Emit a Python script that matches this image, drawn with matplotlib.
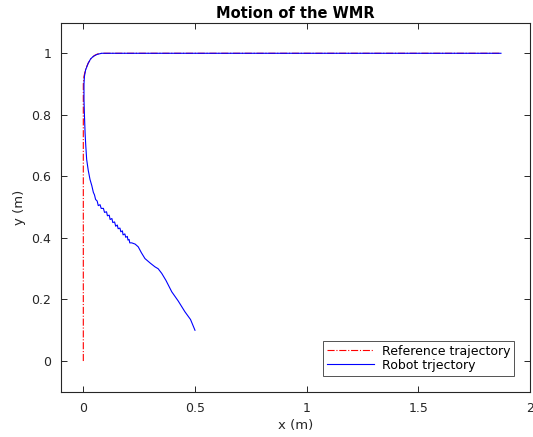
import matplotlib
matplotlib.use('Agg')
import matplotlib.pyplot as plt

plt.rcParams['font.family'] = ['DejaVu Sans']

# reference trajectory
ref_x = [0, 0, 0.003, 0.010, 0.022, 0.035, 0.050, 0.065, 0.085, 1.87]
ref_y = [0, 0.90, 0.925, 0.948, 0.968, 0.983, 0.993, 0.998, 1.0, 1.0]

# robot trajectory
rob_x = [0.500, 0.480, 0.455, 0.425, 0.396, 0.370, 0.351, 0.335, 0.321, 0.300,
         0.276, 0.260, 0.246, 0.232, 0.217, 0.208, 0.205, 0.200, 0.197, 0.190,
         0.186, 0.178, 0.175, 0.168, 0.164, 0.156, 0.152, 0.145, 0.140, 0.132,
         0.128, 0.120, 0.116, 0.108, 0.104, 0.095, 0.090, 0.080, 0.075, 0.067,
         0.062, 0.055, 0.050, 0.045, 0.038, 0.030, 0.022, 0.015, 0.011, 0.008,
         0.005, 0.003, 0.003, 0.005, 0.010, 0.022, 0.033, 0.045, 0.060, 0.082,
         1.870]
rob_y = [0.100, 0.135, 0.160, 0.195, 0.225, 0.262, 0.285, 0.300, 0.306, 0.318,
         0.333, 0.352, 0.371, 0.380, 0.384, 0.384, 0.395, 0.393, 0.405, 0.402,
         0.413, 0.410, 0.423, 0.420, 0.432, 0.430, 0.442, 0.438, 0.452, 0.450,
         0.463, 0.460, 0.474, 0.472, 0.485, 0.483, 0.496, 0.496, 0.508, 0.505,
         0.520, 0.525, 0.540, 0.548, 0.570, 0.590, 0.620, 0.655, 0.700, 0.740,
         0.800, 0.850, 0.900, 0.925, 0.945, 0.968, 0.982, 0.990, 0.996, 1.000,
         1.000]

axcol = '#262626'

fig = plt.figure(figsize=(5.33, 4.37), dpi=100)
ax = fig.add_axes([0.1144, 0.1034, 0.88, 0.8451])

ax.plot(ref_x, ref_y, 'r-.', lw=0.8, label='Reference trajectory')
ax.plot(rob_x, rob_y, 'b-', lw=0.8, label='Robot trjectory')

ax.set_xlim(-0.1, 2)
ax.set_ylim(-0.1, 1.1)
ax.set_xticks([0, 0.5, 1, 1.5, 2])
ax.set_xticklabels(['0', '0.5', '1', '1.5', '2'])
ax.set_yticks([0, 0.2, 0.4, 0.6, 0.8, 1])
ax.set_yticklabels(['0', '0.2', '0.4', '0.6', '0.8', '1'])
ax.tick_params(direction='in', top=True, right=True, length=4, width=0.7,
               labelsize=9, colors=axcol, pad=7)
for s in ax.spines.values():
    s.set_color(axcol)
    s.set_linewidth(0.8)

ax.set_xlabel('x (m)', fontsize=9.5, color=axcol, labelpad=3)
ax.set_ylabel('y (m)', fontsize=9.5, color=axcol, labelpad=4)
ax.set_title('Motion of the WMR', fontsize=10.5, fontweight='bold', pad=3)

leg = ax.legend(loc='lower right', fontsize=9, frameon=True, fancybox=False,
                edgecolor=axcol, borderpad=0.3, labelspacing=0.1,
                handlelength=3.8, handletextpad=0.6, borderaxespad=1.3)
leg.get_frame().set_linewidth(0.7)

fig.savefig('out.png', dpi=100)
